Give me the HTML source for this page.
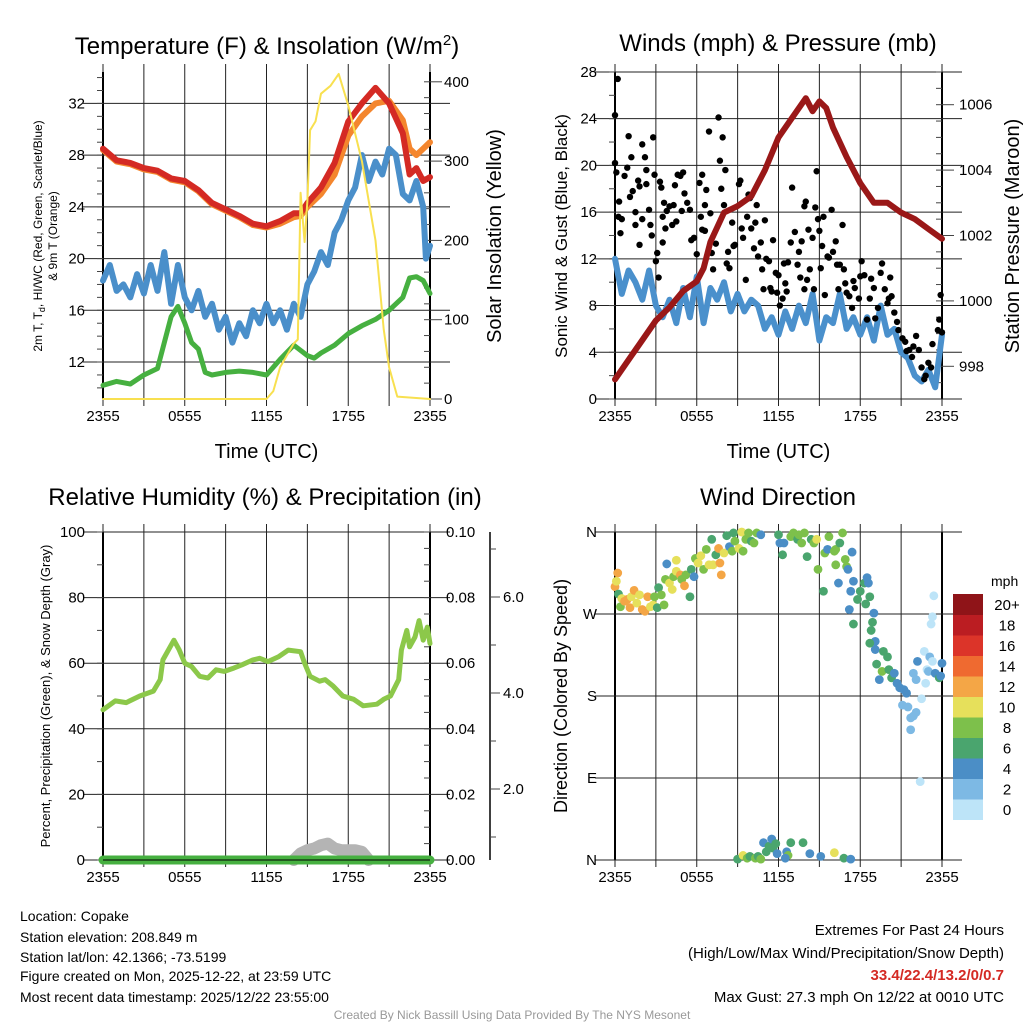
<!DOCTYPE html>
<html><head><meta charset="utf-8">
<style>
html,body{margin:0;padding:0;background:#fff;}
svg{display:block;font-family:"Liberation Sans",sans-serif;}
</style></head>
<body>
<svg id="root" width="1024" height="1024" viewBox="0 0 1024 1024" xmlns="http://www.w3.org/2000/svg">
<rect width="1024" height="1024" fill="#fff"/>
<g id="p1"></g>
<g id="p2"></g>
<g id="p3"></g>
<g id="p4"></g>
<g font-size="14" fill="#000">
<text x="20" y="921">Location: Copake</text>
<text x="20" y="942">Station elevation: 208.849 m</text>
<text x="20" y="962">Station lat/lon: 42.1366; -73.5199</text>
<text x="20" y="981">Figure created on Mon, 2025-12-22, at 23:59 UTC</text>
<text x="20" y="1002">Most recent data timestamp: 2025/12/22 23:55:00</text>
<text x="1004" y="935" text-anchor="end" font-size="15">Extremes For Past 24 Hours</text>
<text x="1004" y="958" text-anchor="end" font-size="15">(High/Low/Max Wind/Precipitation/Snow Depth)</text>
<text x="1004" y="980" text-anchor="end" font-size="15" font-weight="bold" fill="#d42a24">33.4/22.4/13.2/0/0.7</text>
<text x="1004" y="1002" text-anchor="end" font-size="15">Max Gust: 27.3 mph On 12/22 at 0010 UTC</text>
<text x="512" y="1019" text-anchor="middle" font-size="12" fill="#999">Created By Nick Bassill Using Data Provided By The NYS Mesonet</text>
</g>
</svg>
<script>
// ---------- Data ----------
const xTickLabels = ["2355","0555","1155","1755","2355"];
const tempHours = [0,1,2,3,4,5,6,7,8,9,10,11,12,13,14,14.5,15,16,17,18,19,20,21,22,22.5,23,23.5,24];
const tempRed   = [28.5,27.6,27.4,27.0,26.8,26.2,26.0,25.3,24.3,23.8,23.3,22.7,22.5,22.9,23.5,23.5,24.3,25.5,27.4,30.6,32.0,33.2,32.0,29.7,26.5,27.0,26.0,26.3];
const tempOrange= [28.4,27.5,27.3,26.9,26.7,26.1,25.9,25.2,24.2,23.7,23.2,22.6,22.4,22.7,23.2,23.3,24.0,25.0,26.5,29.5,31.0,32.0,32.2,30.7,28.5,28.0,28.5,29.0];
const wcHours = [0,0.5,1,1.5,2,2.5,3,3.5,4,4.5,5,5.5,6,6.5,7,7.5,8,8.5,9,9.5,10,10.5,11,11.5,12,12.5,13,13.5,14,14.5,15,15.5,16,16.5,17,17.5,18,18.5,19,19.5,20,20.5,21,21.5,22,22.5,23,23.5,23.7,24];
const wcBlue  = [18.3,19.5,17.5,18,17,18.8,17.3,19.5,17.5,20.5,16.5,19.5,17,16,17.5,15.5,16.5,14.5,15.5,13.5,15,14,16,15,16.5,15,16,14.5,16.5,15.5,18,19,20.5,19.5,22,23,24.5,25.5,28,26,27.5,26.5,28.5,28,25,24.5,26,24,20,21];
const dewHours = [0,1,2,3,4,4.5,5,5.5,6,6.5,7,7.5,8,9,10,11,12,13,14,15,15.5,16,17,18,19,20,21,22,22.5,23,23.5,24];
const dewGreen = [10.2,10.5,10.3,11,11.5,13.5,15.5,16.3,15,13.5,13,11.2,11,11.2,11.3,11.2,11,12.2,13.3,12.5,12.3,12.7,13.3,14.2,14.8,15.3,16,17,18.5,18.6,18.3,17.3];
const solarHours = [0,12,12.5,13,13.5,14,14.3,14.5,14.8,15,15.2,15.6,16,16.7,17.3,18,19,20,20.6,21,21.6,24];
const solarVals  = [0,0,10,40,55,70,75,260,198,250,339,350,385,395,410,370,300,200,88,40,3,0];
const windTickLabels = [0,4,8,12,16,20,24,28];
const presTickLabels = [998,1000,1002,1004,1006];
const presHours = [0,1,2,3,4,5,6,6.5,7,8,9,10,11,12,13,14,14.5,15,15.5,16,17,18,19,20,21,22,23,24];
const presVals  = [997.6,998.2,998.8,999.4,999.8,1000.3,1000.6,1001,1001.8,1002.7,1002.9,1003.2,1004,1005,1005.6,1006.2,1005.8,1006.1,1005.9,1005.3,1004.4,1003.6,1003,1003,1002.7,1002.5,1002.2,1001.9];
const windHours = [0,0.5,1,1.5,2,2.5,3,3.5,4,4.5,5,5.5,6,6.5,7,7.5,8,8.5,9,9.5,10,10.5,11,11.5,12,12.5,13,13.5,14,14.5,15,15.5,16,16.5,17,17.5,18,18.5,19,19.5,20,20.5,21,21.5,22,22.5,23,23.5,24];
const windVals  = [12,9,11,10,8.5,11,8,7,8.5,6.5,9.5,7,10.5,6.5,9.5,8.5,10,7.5,9,7.5,8.5,8,6,7,5.5,7.5,6,8,6.5,9,5,7,6.5,9,6,7,5.5,7,5,8,5.5,6,4,3.5,2,1.5,2.5,1,5.5];
const gustHours = [0,0.2,0,0.1,0.3,0.25,0.5,0.4,0.7,0.9,1,1.2,1.1,1.3,1.5,1.5,1.7,1.8,1.8,2,2,2.2,2.3,2.3,2.5,2.6,2.7,2.8,2.9,3,3.1,3.2,3.3,3.4,3.5,3.5,3.6,3.7,3.8,4,4.2,4.3,4.4,4.5,4.6,4.8,4.9,5,5.1,5.3,5.5,5.6,5.8,6,6.2,6.3,6.4,6.4,6.6,6.6,6.7,6.9,7,7.1,7.2,7.4,7.6,7.7,7.8,7.9,8,8.1,8.2,8.3,8.4,8.6,8.7,8.8,9.1,9.2,9.3,9.4,9.6,9.7,9.8,9.9,10,10.2,10.3,10.4,10.5,10.7,10.8,10.9,11,11.1,11.3,11.4,11.5,11.6,11.8,11.9,12,12.1,12.3,12.4,12.5,12.6,12.7,12.9,13,13.2,13.4,13.5,13.6,13.7,13.9,13.9,14,14.1,14.2,14.3,14.5,14.6,14.7,14.8,14.9,15,15.1,15.2,15.3,15.4,15.6,15.7,15.9,16,16.2,16.3,16.4,16.5,16.7,16.8,16.9,17,17.2,17.4,17.5,17.6,17.9,18,18.1,18.3,18.5,18.7,18.8,19,19.1,19.3,19.5,19.6,19.8,20,20.1,20.2,20.3,20.5,20.7,20.8,21.1,21.3,21.4,21.6,21.8,21.9,22.1,22.3,22.5,22.7,22.8,23,23.2,23.3,23.7,23.8,23.9,24];
const gustVals  = [24.3,27.4,20.2,19.4,16.9,15.6,15.4,14.2,19.1,19.8,22.5,20.7,17.3,17.8,16,14.9,18.7,13.2,18.2,15.4,21.8,20.7,18.4,19.6,16.2,14.9,14,22.4,19.2,11.8,12.5,10.4,18.6,18.1,15.6,13.4,16.8,14.6,16.1,16.5,14.9,16.6,18.3,15.2,19.2,19.1,16.1,19.4,17.6,16.8,16.2,13.6,13.8,12.4,18.5,15.6,19.2,14.5,16.6,14.4,17.9,22.9,15.9,12.5,11.1,13.3,24.1,20.4,18,22.4,16.6,19.6,11.6,12.6,11.2,15.1,13.1,13.2,18.4,18.7,14.6,13.8,10.2,15.6,17.5,17.2,14.6,12.9,15.1,16.6,12.2,13.4,11.1,9.4,15.3,12,11.8,9.5,9.2,13.6,10.8,9.1,10.6,8,8.6,11.6,9.9,9.2,11.7,13.4,18.1,14.3,11.5,12.6,10.4,13.5,9.4,16.5,16.9,10.2,14.5,11.1,13.8,9.4,16.4,19.5,15.4,14.4,11.2,13.1,15.6,8.9,12.2,12.1,16.2,12.6,13.5,11.5,9.4,11.5,14.9,11.1,9.9,9.1,8.8,7.8,10.1,9.5,8.6,10.5,11.8,10.6,6.8,8.6,10.3,9.5,6.9,7.8,10.8,11.6,9.4,8.2,8.6,10.4,8.8,7.4,6.6,5.9,5.2,4.9,4.1,4.2,3.6,4.5,5.4,4.2,2.7,1.7,2,3.1,2.7,4.7,5.9,6.8,8.9,5.7];
const rhTickLabels = [0,20,40,60,80,100];
const precipTickLabels = ["0.00","0.02","0.04","0.06","0.08","0.10"];
const snowTickLabels = ["2.0","4.0","6.0"];
const rhHours = [0,0.9,1.7,2.7,3.7,4.2,4.4,5.2,5.6,6,6.5,7.1,7.7,8.3,8.9,9.6,10.2,11,11.5,12.1,12.9,13.6,14.5,14.8,15.2,15.9,16.3,16.9,17.6,18.4,19.1,20.1,20.6,21.1,21.7,21.9,22.3,22.5,22.9,23.2,23.5,23.8,24];
const rhVals  = [45.8,48.5,48,50,51.5,55,61,67,64,60,59,56,55.5,58,57.5,58.5,59.5,61,61.5,60.5,62,64,63.5,60,56,54.5,55,53,50,49,47,47.5,49,50,55,64,70,65,68,73,67,71,66];
const precipHours = [0,24];
const precipVals  = [0,0];
const snowHours = [14,14.5,15,15.5,16,16.5,17,17.5,18,18.5,19,19.5];
const snowVals  = [0,2,3,3.5,4.5,5,3.5,3,3,3,2.5,0];
const dirTickLabels = ["N","E","S","W","N"];
const dirHours = [0,0.2,0.1,0.25,0.4,0.5,0.7,0.9,1.1,1.2,1.4,1.6,1.8,2,2.2,2.4,2.6,2.8,2.9,3.2,3.1,3.4,3.6,3.7,3.8,4,4.2,4.3,4.5,4.5,4.8,4.9,5.1,5.2,5.5,5.6,5.8,5.9,6.1,6.3,6.5,6.7,6.9,7.1,7.2,7.4,7.6,7.7,7.8,8,8.2,8.4,8.6,8.7,8.8,9.1,9.3,9.4,9.6,9.8,10,10.2,10.4,10.7,12,12.1,12.4,12.3,12.9,13.1,13.4,13.5,13.7,13.9,14.1,14.4,14.6,14.8,14.9,15.4,15.6,15.7,16.1,16.2,16.2,16.5,16.7,16.9,17,17.1,17.4,16.4,15.3,17.3,17.5,17.2,17.5,17.8,18,18.3,18.4,18.5,18.6,18.7,19,18.9,18.8,19.1,19.1,18.7,19.2,19.4,19.6,19.7,20,20.1,20.3,20.5,20.7,20.9,21.2,21.4,21.1,21.5,21.7,21.9,22.1,21.7,21.9,22.2,22.1,22.5,22.7,22.8,22.9,23,23.1,23.3,23.4,23.3,23.2,23.5,23.8,24,23.9,22.4,9,9.4,9.7,9.9,10.3,10.5,10.7,10.9,11.1,11.3,11.5,11.6,11.8,11.9,12.6,12.7,12.9,13.8,14.3,15.1,16.1,16.8,17.3,12.5];
const dirVals  = [300,315,306,292,278,287,284,286,277,289,296,282,291,275,273,289,278,280,289,299,277,291,280,308,325,304,297,311,329,317,313,308,301,313,289,319,311,331,326,334,319,341,324,352,324,335,342,326,313,337,356,344,339,359,350,342,360,339,352,359,350,348,359,357,357,348,348,335,355,359,352,357,348,359,333,352,348,352,319,337,341,355,339,324,341,348,359,330,322,319,338,304,295,295,306,275,259,286,295,304,281,310,304,289,271,261,252,240,231,238,215,198,207,229,223,209,200,205,194,189,187,183,170,168,156,158,162,143,205,218,198,177,229,194,209,207,223,218,290,267,259,205,200,216,202,86,1,5,2,4,2,4,1,19,9,15,23,13,18,7,9,5,19,19,7,4,8,2,1,2];
const dirSpeeds= [13,13,11,7,9,11,13,13,13,11,13,11,11,13,13,13,11,11,9,7,7,9,9,9,5,11,11,9,11,11,13,9,13,9,7,7,5,9,11,11,9,9,11,7,11,7,13,13,13,11,7,5,9,7,9,11,11,9,9,9,7,9,9,5,7,5,5,7,9,9,7,9,9,9,7,7,9,11,9,9,5,9,9,9,9,7,9,9,9,5,5,5,7,5,5,5,7,7,7,7,7,5,5,7,5,7,7,5,5,7,7,5,9,7,7,7,7,5,5,5,5,5,3,3,3,3,3,3,3,5,3,1,1,1,1,3,3,1,1,1,1,5,7,5,5,1,7,11,9,7,9,7,9,5,7,7,5,7,7,5,5,9,7,7,5,5,11,7,5,5];
const cbLabels = ["0","2","4","6","8","10","12","14","16","18","20+"];
const cbColors = ["#bde4f8","#7db9e4","#4b8ec6","#4aa56e","#7dc04b","#e6e05b","#f4a646","#ef6a30","#dc3429","#bb1d22","#8f1418"];

// ---------- Helpers ----------
const NS = "http://www.w3.org/2000/svg";
function mk(parent, tag, attrs, text) {
  const e = document.createElementNS(NS, tag);
  for (const k in attrs) e.setAttribute(k, attrs[k]);
  if (text !== undefined) e.textContent = text;
  parent.appendChild(e);
  return e;
}
function pathFrom(xs, ys, fx, fy) {
  return xs.map((h, i) => (i ? "L" : "M") + fx(h).toFixed(1) + "," + fy(ys[i]).toFixed(1)).join("");
}
const L1 = 103, R1 = 430, L2 = 615, R2 = 942, T1 = 72, B1 = 399, T2 = 532, B2 = 860;
function xf(left){ return h => left + h * (327 / 24); }

function frame(g, left, right, top, bottom, xlab) {
  for (let i = 0; i <= 8; i++) {
    const x = left + i * (right - left) / 8;
    const l = mk(g, "line", {x1:x, x2:x, y1: top - 8, y2: bottom + 7, stroke: "#222", "stroke-width": 1});
    
    
  }
  for (let i = 0; i < 5; i++) {
    const x = left + i * (right - left) / 4;
    const t = mk(g, "text", {x: x, y: bottom + 22, "text-anchor": "middle", "font-size": 15}, xTickLabels[i]);
    
    
  }
  if (xlab) {
    const t = mk(g, "text", {x: (left + right) / 2, y: bottom + 59, "text-anchor": "middle", "font-size": 20}, "Time (UTC)");
    
    
  }
  mk(g, "line", {x1:left, x2:left, y1:top, y2:bottom, stroke:"#000", "stroke-width":2});
  mk(g, "line", {x1:right, x2:right, y1:top, y2:bottom, stroke:"#000", "stroke-width":2});
}
function hgrid(g, left, right, y) {
  const l = mk(g, "line", {x1:left - 20, x2:right + 20, y1:y, y2:y, stroke:"#222", "stroke-width":1});
  
  
}
function ylab(g, x, y, txt, anchor, fs) {
  const t = mk(g, "text", {x:x, y:y + 5, "text-anchor":anchor, "font-size":fs || 15}, txt);
  
  
}
function tick(g, x1, x2, y) { mk(g, "line", {x1:x1, x2:x2, y1:y, y2:y, stroke:"#444", "stroke-width":1}); }
function vtitle(g, x, y, txt, fs, name) {
  const t = mk(g, "text", {x:0, y:0, transform:`translate(${x},${y}) rotate(-90)`, "text-anchor":"middle", "font-size":fs}, txt);
  
  
  return t;
}
function title(g, x, y, txt, name) {
  const t = mk(g, "text", {x:x, y:y, "text-anchor":"middle", "font-size":24}, txt);
  
  
  return t;
}
function series(g, xs, ys, fx, fy, color, w, name) {
  const p = mk(g, "path", {d: pathFrom(xs, ys, fx, fy), fill:"none", stroke:color, "stroke-width":w, "stroke-linejoin":"round", "stroke-linecap":"round"});
  
  
  return p;
}

// ---------- Panel 1 ----------
(function(){
  const g = document.getElementById("p1");
  const x = xf(L1);
  const yT = t => B1 - (t - 9.14) * 12.93;
  const yS = w => B1 - w * 0.793;
  const t1 = title(g, 267, 54, "", "panel1-title");
  t1.textContent = "Temperature (F) & Insolation (W/m";
  mk(t1, "tspan", {dy:-9, "font-size":15}, "2");
  mk(t1, "tspan", {dy:9}, ")");
  frame(g, L1, R1, T1, B1, true);
  [12,16,20,24,28,32].forEach(v => { hgrid(g, L1, R1, yT(v)); ylab(g, 85, yT(v), String(v), "end"); });
  for (let v = 10; v <= 34; v++) tick(g, L1 - 6, L1, yT(v));
  [0,100,200,300,400].forEach(v => { tick(g, R1, R1 + 12, yS(v)); ylab(g, 444, yS(v), String(v), "start"); });
  for (let v = 0; v <= 400; v += 20) tick(g, R1 - 6, R1, yS(v));
  const vt = vtitle(g, 42, 236, "", 12, "left-axis-title");
  vt.innerHTML = '2m T, T<tspan font-size="9" dy="3">d</tspan><tspan dy="-3">, HI/WC (Red, Green, Scarlet/Blue)</tspan>';
  vtitle(g, 57, 236, "& 9m T (Orange)", 12, "left-axis-title-line2");
  vtitle(g, 501, 236, "Solar Insolation (Yellow)", 20, "right-axis-title");
  series(g, dewHours, dewGreen, x, yT, "#46b040", 5, "dewpoint-line");
  series(g, wcHours, wcBlue, x, yT, "#4a8fca", 6, "windchill-line");
  series(g, tempHours, tempOrange, x, yT, "#f4862e", 6, "temp-9m-line");
  series(g, tempHours, tempRed, x, yT, "#d42a24", 6, "temp-2m-line");
  series(g, solarHours, solarVals, x, yS, "#f8e050", 2, "solar-line");
})();

// ---------- Panel 2 ----------
(function(){
  const g = document.getElementById("p2");
  const x = xf(L2);
  const yW = v => B1 - v * 11.68;
  const yP = p => B1 - (p - 997) * 32.7;
  title(g, 778, 51, "Winds (mph) & Pressure (mb)", "panel2-title");
  frame(g, L2, R2, T1, B1, true);
  windTickLabels.forEach(v => { hgrid(g, L2, R2, yW(v)); ylab(g, 597, yW(v), String(v), "end"); });
  for (let v = 0; v <= 28; v += 2) tick(g, L2 - 6, L2, yW(v));
  presTickLabels.forEach(v => { tick(g, R2, R2 + 12, yP(v)); ylab(g, 959, yP(v), String(v), "start"); });
  for (let v = 997.5; v <= 1007; v += 0.5) tick(g, R2 - 6, R2, yP(v));
  vtitle(g, 567, 236, "Sonic Wind & Gust (Blue, Black)", 17, "left-axis-title");
  vtitle(g, 1019, 236, "Station Pressure (Maroon)", 20, "right-axis-title");
  series(g, windHours, windVals, x, yW, "#4a90cc", 6, "sonic-wind-line");
  gustHours.forEach((h, i) => {
    const c = mk(g, "circle", {cx: x(h), cy: yW(gustVals[i]), r: 3.2, fill: "#000"});
    
    
  });
  series(g, presHours, presVals, x, yP, "#9a1818", 6, "pressure-line");
})();

// ---------- Panel 3 ----------
(function(){
  const g = document.getElementById("p3");
  const x = xf(L1);
  const yR = v => B2 - v * 3.28;
  title(g, 265, 505, "Relative Humidity (%) & Precipitation (in)", "panel3-title");
  frame(g, L1, R1, T2, B2, false);
  rhTickLabels.forEach((v, i) => {
    hgrid(g, L1, R1, yR(v));
    ylab(g, 85, yR(v), String(v), "end");
    ylab(g, 446, yR(v), precipTickLabels[i], "start");
  });
  for (let v = 0; v <= 100; v += 10) tick(g, L1 - 6, L1, yR(v));
  for (let v = 0; v <= 100; v += 5) tick(g, R1 - 6, R1, yR(v));
  mk(g, "line", {x1:490, x2:490, y1:T2, y2:B2, stroke:"#000", "stroke-width":1.5});
  const ySn = s => 885 - s * 48;
  for (let s = 1; s <= 7; s++) tick(g, 490, 496, ySn(s));
  snowTickLabels.forEach(s => { tick(g, 490, 500, ySn(+s)); ylab(g, 503, ySn(+s), s, "start"); });
  vtitle(g, 50, 696, "Percent, Precipitation (Green), & Snow Depth (Gray)", 13, "left-axis-title");
  series(g, snowHours, snowVals, x, yR, "#b4b4b4", 12, "snow-depth-area");
  series(g, rhHours, rhVals, x, yR, "#8cc84a", 5, "rh-line");
  series(g, precipHours, precipVals, x, yR, "#46b040", 9, "precip-line");
  mk(g, "line", {x1:L1, x2:R1, y1:B2, y2:B2, stroke:"#000", "stroke-width":1});
})();

// ---------- Panel 4 ----------
(function(){
  const g = document.getElementById("p4");
  const x = xf(L2);
  const yD = d => B2 - d * 0.911;
  title(g, 778, 505, "Wind Direction", "panel4-title");
  frame(g, L2, R2, T2, B2, false);
  dirTickLabels.forEach((lab, i) => { hgrid(g, L2, R2, yD(i * 90)); ylab(g, 597, yD(i * 90), lab, "end"); });
  vtitle(g, 567, 696, "Direction (Colored By Speed)", 18, "left-axis-title");
  function color(s){ return cbColors[Math.min(10, Math.floor(s / 2))]; }
  dirHours.forEach((h, i) => {
    const c = mk(g, "circle", {cx: x(h), cy: yD(dirVals[i]), r: 4.4, fill: color(dirSpeeds[i])});
    
    
  });
  const cb = mk(g, "g", {});
  
  
  const lt = mk(cb, "text", {x: 991, y: 586, "font-size": 14}, "mph");
  
  
  const top = 594, bh = 20.5;
  cbLabels.forEach((lab, i) => {
    const yy = top + (10 - i) * bh;
    const r = mk(cb, "rect", {x: 953, y: yy, width: 30, height: bh + 0.5, fill: cbColors[i]});
    
    
    const t = mk(cb, "text", {x: 1007, y: yy + 16, "text-anchor": "middle", "font-size": 15}, lab);
    
    
  });
})();
</script>
</body></html>
